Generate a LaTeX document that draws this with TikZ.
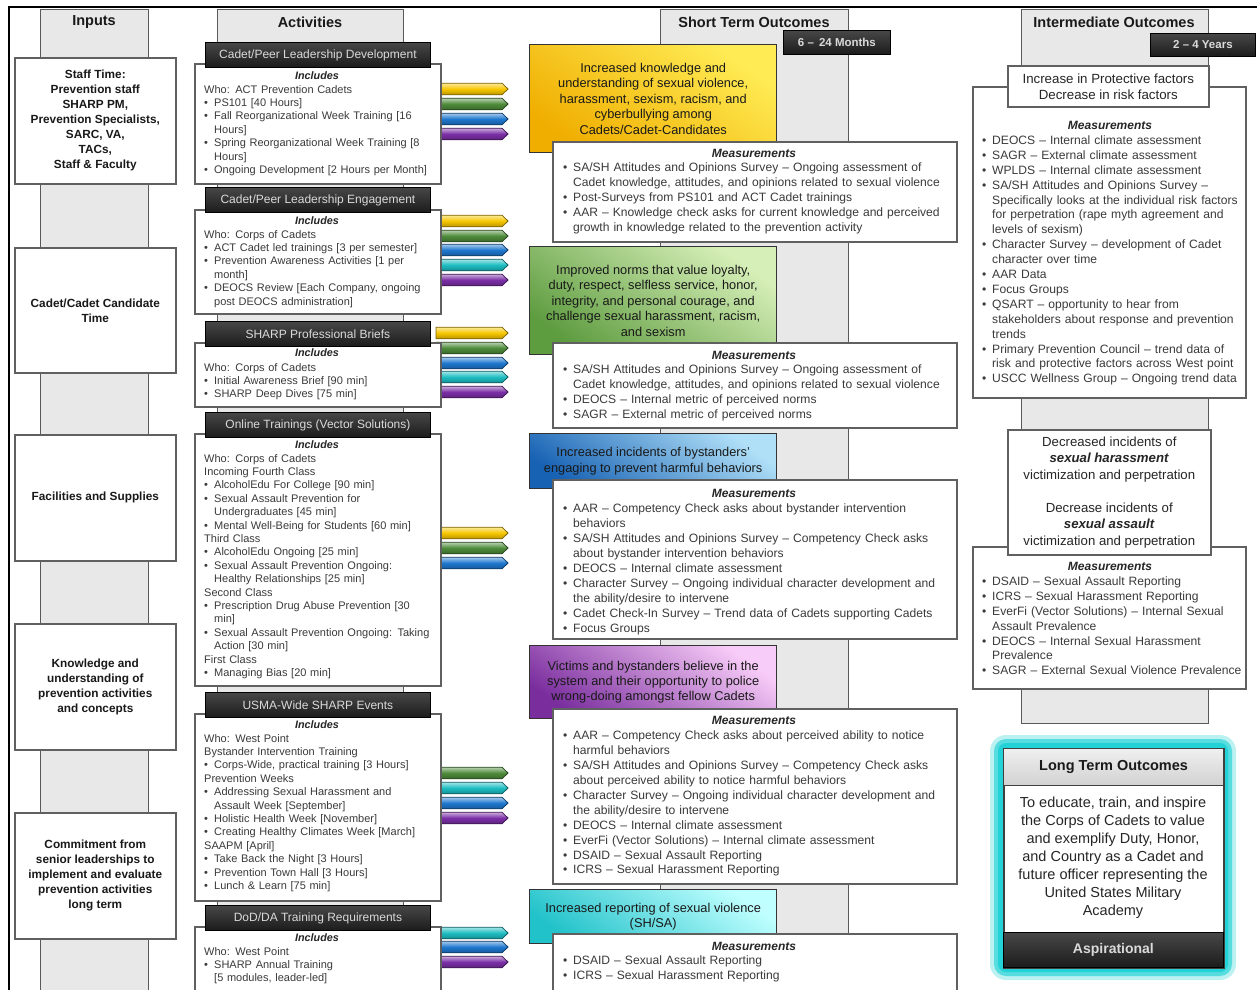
\documentclass[tikz,border=0pt]{standalone}
\usepackage{fontspec}
\setmainfont{Liberation Sans}
\definecolor{barfill}{HTML}{E8E8E8}
\definecolor{bardraw}{HTML}{595959}
\definecolor{boxdraw}{HTML}{606060}
\definecolor{dtop}{HTML}{474747}
\definecolor{dbot}{HTML}{1C1C1C}
\definecolor{dtext}{HTML}{DADADA}
\definecolor{txt}{HTML}{3A3A3A}
\definecolor{ayel}{HTML}{F7C600}
\definecolor{agrn}{HTML}{4E8B3A}
\definecolor{ablu}{HTML}{1F78CF}
\definecolor{acyn}{HTML}{1DBDC2}
\definecolor{apur}{HTML}{7B2FA6}
\definecolor{yTop}{HTML}{FFEC55}
\definecolor{yBot}{HTML}{F0AE00}
\definecolor{gTop}{HTML}{D6EFB8}
\definecolor{gBot}{HTML}{5E9C40}
\definecolor{bTop}{HTML}{B0E0F8}
\definecolor{bBot}{HTML}{1862B4}
\definecolor{pTop}{HTML}{F8CCF8}
\definecolor{pBot}{HTML}{7A2E9E}
\definecolor{cTop}{HTML}{C0FFFF}
\definecolor{cBot}{HTML}{22C2CA}
\definecolor{glow}{HTML}{22D2D6}
\newcommand{\mybul}{\makebox[10pt][l]{•}}
\newcommand{\mycont}{\hspace*{10pt}}
\newcommand{\colarr}[2]{%
  \draw[draw=#2!50!black, line width=0.8pt, top color=#2!40!white, bottom color=#2!75!black, middle color=#2]
   (436,{#1-5.8}) -- (502,{#1-5.8}) -- (508,{#1}) -- (502,{#1+5.8}) -- (436,{#1+5.8}) -- cycle;}
\tikzset{
 gbar/.style={fill=barfill, draw=bardraw, line width=1.4pt, inner sep=0pt, anchor=north west},
 wbox/.style={fill=white, draw=boxdraw, line width=1.6pt, inner sep=0pt, anchor=north west},
 dhead/.style={top color=dtop, bottom color=dbot, draw=black, line width=0.8pt, text=dtext, inner sep=0pt, anchor=north west},
 cbox/.style={draw=black!80, line width=1.4pt, inner sep=0pt, anchor=north west, text=black!90, align=center, font=\fontsize{12.8}{15.4}\selectfont},
 colhead/.style={font=\bfseries\fontsize{14.5}{17}\selectfont, text=black!90, inner sep=0pt},
 intext/.style={font=\bfseries\fontsize{11.8}{15}\selectfont, align=center, text=black!90},
 inc/.style={font=\bfseries\itshape\fontsize{10.8}{12}\selectfont, inner sep=0pt, text=black!85},
 meas/.style={font=\bfseries\itshape\fontsize{12}{13}\selectfont, inner sep=0pt, text=black!85},
 abody/.style={anchor=base west, inner sep=0pt, text width=260pt, align=left, font=\fontsize{11}{13.4}\selectfont, text=txt},
 sbody/.style={abody, text width=420pt, font=\fontsize{12.1}{14.95}\selectfont},
 ibody/.style={abody, text width=300pt, font=\fontsize{12.1}{14.9}\selectfont},
 ahead/.style={dhead, minimum width=225, minimum height=25, font=\fontsize{12}{14}\selectfont},
}
\begin{document}
\begin{tikzpicture}[x=1pt,y=-1pt]
\useasboundingbox (0,0) rectangle (1257,989);
\clip (0,0) rectangle (1257,989);
\fill[white] (0,0) rectangle (1257,989);
% column bars
\node[gbar, minimum width=108, minimum height=1000] (bin) at (40,9) {};
\node[gbar, minimum width=186, minimum height=1000] (bact) at (217,9) {};
\node[gbar, minimum width=188, minimum height=1000] (bst) at (660,9) {};
\node[gbar, minimum width=187, minimum height=714] (bint) at (1021,9) {};
% arrows
\colarr{89}{ayel}\colarr{104}{agrn}\colarr{119}{ablu}\colarr{134}{apur}
\colarr{221}{ayel}\colarr{236}{agrn}\colarr{250}{ablu}\colarr{265}{acyn}\colarr{280}{apur}
\colarr{333}{ayel}\colarr{348}{agrn}\colarr{363}{ablu}\colarr{377}{acyn}\colarr{392}{apur}
\colarr{533}{ayel}\colarr{548}{agrn}\colarr{563}{ablu}
\colarr{773}{agrn}\colarr{788}{acyn}\colarr{803}{ablu}\colarr{818}{apur}
\colarr{933}{acyn}\colarr{947}{ablu}\colarr{962}{apur}
% inputs
\node[wbox, minimum width=161, minimum height=126] (in1) at (14,57) {};
\node[intext] (in1t) at (in1.center) {Staff Time:\\Prevention staff\\SHARP PM,\\Prevention Specialists,\\SARC, VA,\\TACs,\\Staff \& Faculty};
\node[wbox, minimum width=161, minimum height=125] (in2) at (14,247) {};
\node[intext] (in2t) at (in2.center) {Cadet/Cadet Candidate\\Time};
\node[wbox, minimum width=161, minimum height=126] (in3) at (14,434) {};
\node[intext] (in3t) at (in3.center) {Facilities and Supplies};
\node[wbox, minimum width=161, minimum height=126] (in4) at (14,623) {};
\node[intext] (in4t) at (in4.center) {Knowledge and\\understanding of\\prevention activities\\and concepts};
\node[wbox, minimum width=161, minimum height=126] (in5) at (14,812) {};
\node[intext] (in5t) at (in5.center) {Commitment from\\senior leaderships to\\implement and evaluate\\prevention activities\\long term};
% activities
\node[wbox, minimum width=246, minimum height=120] (a1) at (194,63) {};
\node[ahead] (a1h) at (205,42) {Cadet/Peer Leadership Development};
\node[inc] (a1i) at (317,76) {Includes};
\node[abody] (a1t) at (204,93) {Who: ACT Prevention Cadets\\
\mybul PS101 [40 Hours]\\
\mybul Fall Reorganizational Week Training [16\\
\mycont Hours]\\
\mybul Spring Reorganizational Week Training [8\\
\mycont Hours]\\
\mybul Ongoing Development [2 Hours per Month]};
\node[wbox, minimum width=246, minimum height=104] (a2) at (194,209) {};
\node[ahead] (a2h) at (205,187) {Cadet/Peer Leadership Engagement};
\node[inc] (a2i) at (317,221) {Includes};
\node[abody] (a2t) at (204,238) {Who: Corps of Cadets\\
\mybul ACT Cadet led trainings [3 per semester]\\
\mybul Prevention Awareness Activities [1 per\\
\mycont month]\\
\mybul DEOCS Review [Each Company, ongoing\\
\mycont post DEOCS administration]};
\node[wbox, minimum width=246, minimum height=64] (a3) at (194,342) {};
\node[ahead] (a3h) at (205,321) {SHARP Professional Briefs};
\node[inc] (a3i) at (317,353) {Includes};
\node[abody] (a3t) at (204,371) {Who: Corps of Cadets\\
\mybul Initial Awareness Brief [90 min]\\
\mybul SHARP Deep Dives [75 min]};
\node[wbox, minimum width=246, minimum height=252] (a4) at (194,433) {};
\node[ahead] (a4h) at (205,412) {Online Trainings (Vector Solutions)};
\node[inc] (a4i) at (317,445) {Includes};
\node[abody] (a4t) at (204,462) {Who: Corps of Cadets\\
Incoming Fourth Class\\
\mybul AlcoholEdu For College [90 min]\\
\mybul Sexual Assault Prevention for\\
\mycont Undergraduates [45 min]\\
\mybul Mental Well-Being for Students [60 min]\\
Third Class\\
\mybul AlcoholEdu Ongoing [25 min]\\
\mybul Sexual Assault Prevention Ongoing:\\
\mycont Healthy Relationships [25 min]\\
Second Class\\
\mybul Prescription Drug Abuse Prevention [30\\
\mycont min]\\
\mybul Sexual Assault Prevention Ongoing: Taking\\
\mycont Action [30 min]\\
First Class\\
\mybul Managing Bias [20 min]};
\node[wbox, minimum width=246, minimum height=187] (a5) at (194,713) {};
\node[ahead] (a5h) at (205,692) {USMA-Wide SHARP Events};
\node[inc] (a5i) at (317,725) {Includes};
\node[abody] (a5t) at (204,742) {Who: West Point\\
Bystander Intervention Training\\
\mybul Corps-Wide, practical training [3 Hours]\\
Prevention Weeks\\
\mybul Addressing Sexual Harassment and\\
\mycont Assault Week [September]\\
\mybul Holistic Health Week [November]\\
\mybul Creating Healthy Climates Week [March]\\
SAAPM [April]\\
\mybul Take Back the Night [3 Hours]\\
\mybul Prevention Town Hall [3 Hours]\\
\mybul Lunch \& Learn [75 min]};
\node[wbox, minimum width=246, minimum height=80] (a6) at (194,926) {};
\node[ahead] (a6h) at (205,905) {DoD/DA Training Requirements};
\node[inc] (a6i) at (317,938) {Includes};
\node[abody] (a6t) at (204,955) {Who: West Point\\
\mybul SHARP Annual Training\\
\mycont [5 modules, leader-led]};
% short term outcomes
\node[cbox, top color=yTop, bottom color=yBot, shading angle=-35, minimum width=247, minimum height=108] (s1) at (529,44) {Increased knowledge and\\understanding of sexual violence,\\harassment, sexism, racism, and\\cyberbullying among\\Cadets/Cadet-Candidates};
\node[wbox, minimum width=404, minimum height=100] (m1) at (552,141) {};
\node[meas] (m1l) at (754,153) {Measurements};
\node[sbody] (m1t) at (563,171.4) {\mybul SA/SH Attitudes and Opinions Survey – Ongoing assessment of\\
\mycont Cadet knowledge, attitudes, and opinions related to sexual violence\\
\mybul Post-Surveys from PS101 and ACT Cadet trainings\\
\mybul AAR – Knowledge check asks for current knowledge and perceived\\
\mycont growth in knowledge related to the prevention activity};
\node[cbox, top color=gTop, bottom color=gBot, shading angle=-35, minimum width=247, minimum height=108] (s2) at (529,246) {Improved norms that value loyalty,\\duty, respect, selfless service, honor,\\integrity, and personal courage, and\\challenge sexual harassment, racism,\\and sexism};
\node[wbox, minimum width=404, minimum height=85] (m2) at (552,342) {};
\node[meas] (m2l) at (754,355) {Measurements};
\node[sbody] (m2t) at (563,373.4) {\mybul SA/SH Attitudes and Opinions Survey – Ongoing assessment of\\
\mycont Cadet knowledge, attitudes, and opinions related to sexual violence\\
\mybul DEOCS – Internal metric of perceived norms\\
\mybul SAGR – External metric of perceived norms};
\node[cbox, top color=bTop, bottom color=bBot, shading angle=-35, minimum width=247, minimum height=55] (s3) at (529,433) {Increased incidents of bystanders'\\engaging to prevent harmful behaviors};
\node[wbox, minimum width=404, minimum height=159] (m3) at (552,479) {};
\node[meas] (m3l) at (754,493) {Measurements};
\node[sbody] (m3t) at (563,512.4) {\mybul AAR – Competency Check asks about bystander intervention\\
\mycont behaviors\\
\mybul SA/SH Attitudes and Opinions Survey – Competency Check asks\\
\mycont about bystander intervention behaviors\\
\mybul DEOCS – Internal climate assessment\\
\mybul Character Survey – Ongoing individual character development and\\
\mycont the ability/desire to intervene\\
\mybul Cadet Check-In Survey – Trend data of Cadets supporting Cadets\\
\mybul Focus Groups};
\node[cbox, top color=pTop, bottom color=pBot, shading angle=-35, minimum width=247, minimum height=73] (s4) at (529,645) {Victims and bystanders believe in the\\system and their opportunity to police\\wrong-doing amongst fellow Cadets};
\node[wbox, minimum width=404, minimum height=175] (m4) at (552,708) {};
\node[meas] (m4l) at (754,720) {Measurements};
\node[sbody] (m4t) at (563,739.4) {\mybul AAR – Competency Check asks about perceived ability to notice\\
\mycont harmful behaviors\\
\mybul SA/SH Attitudes and Opinions Survey – Competency Check asks\\
\mycont about perceived ability to notice harmful behaviors\\
\mybul Character Survey – Ongoing individual character development and\\
\mycont the ability/desire to intervene\\
\mybul DEOCS – Internal climate assessment\\
\mybul EverFi (Vector Solutions) – Internal climate assessment\\
\mybul DSAID – Sexual Assault Reporting\\
\mybul ICRS – Sexual Harassment Reporting};
\node[cbox, top color=cTop, bottom color=cBot, shading angle=-35, minimum width=247, minimum height=54] (s5) at (529,889) {Increased reporting of sexual violence\\(SH/SA)};
\node[wbox, minimum width=404, minimum height=80] (m5) at (552,933) {};
\node[meas] (m5l) at (754,946) {Measurements};
\node[sbody] (m5t) at (563,964.4) {\mybul DSAID – Sexual Assault Reporting\\
\mybul ICRS – Sexual Harassment Reporting};
% intermediate outcomes
\node[wbox, minimum width=273, minimum height=311] (im1) at (972,86) {};
\node[wbox, minimum width=201, minimum height=41, align=center, font=\fontsize{13.3}{16}\selectfont, text=black!85] (i1) at (1007,65) {Increase in Protective factors\\Decrease in risk factors};
\node[meas] (im1l) at (1110,125) {Measurements};
\node[ibody] (im1t) at (982,144.4) {\mybul DEOCS – Internal climate assessment\\
\mybul SAGR – External climate assessment\\
\mybul WPLDS – Internal climate assessment\\
\mybul SA/SH Attitudes and Opinions Survey –\\
\mycont Specifically looks at the individual risk factors\\
\mycont for perpetration (rape myth agreement and\\
\mycont levels of sexism)\\
\mybul Character Survey – development of Cadet\\
\mycont character over time\\
\mybul AAR Data\\
\mybul Focus Groups\\
\mybul QSART – opportunity to hear from\\
\mycont stakeholders about response and prevention\\
\mycont trends\\
\mybul Primary Prevention Council – trend data of\\
\mycont risk and protective factors across West point\\
\mybul USCC Wellness Group – Ongoing trend data};
\node[wbox, minimum width=273, minimum height=142] (im2) at (972,546) {};
\node[wbox, minimum width=203, minimum height=125, align=center, font=\fontsize{13.2}{16.5}\selectfont, text=black!85] (i2) at (1007,429) {Decreased incidents of\\\textbf{\textit{sexual harassment}}\\victimization and perpetration\\[16.5pt]Decrease incidents of\\\textbf{\textit{sexual assault}}\\victimization and perpetration};
\node[meas] (im2l) at (1110,566) {Measurements};
\node[ibody] (im2t) at (982,585.4) {\mybul DSAID – Sexual Assault Reporting\\
\mybul ICRS – Sexual Harassment Reporting\\
\mybul EverFi (Vector Solutions) – Internal Sexual\\
\mycont Assault Prevalence\\
\mybul DEOCS – Internal Sexual Harassment\\
\mycont Prevalence\\
\mybul SAGR – External Sexual Violence Prevalence};
% long term
\fill[glow, opacity=0.3, rounded corners=16] (990,735) rectangle (1236,980);
\fill[glow, opacity=0.65, rounded corners=12] (994,739) rectangle (1232,976);
\fill[glow, rounded corners=8] (998,743) rectangle (1228,972);
\node[wbox, draw=black!75, minimum width=220, minimum height=219] (lt) at (1003,748) {};
\node[anchor=north west, inner sep=0pt, top color=white!94!black, bottom color=white!82!black, draw=black!75, line width=1.2pt, minimum width=220, minimum height=37, font=\bfseries\fontsize{14.5}{17}\selectfont, text=black!90] (lth) at (1003,748) {Long Term Outcomes};
\node[align=center, font=\fontsize{14.5}{18}\selectfont, text=black!85] (ltt) at (1113,858) {To educate, train, and inspire\\the Corps of Cadets to value\\and exemplify Duty, Honor,\\and Country as a Cadet and\\future officer representing the\\United States Military\\Academy};
\node[dhead, minimum width=220, minimum height=35, font=\bfseries\fontsize{14}{17}\selectfont] (ltf) at (1003,932) {Aspirational};
% time boxes
\node[dhead, minimum width=107, minimum height=24, font=\bfseries\fontsize{11.5}{13}\selectfont] (t1) at (783,30) {6 –\, 24 Months};
\node[dhead, minimum width=105, minimum height=23, font=\bfseries\fontsize{11.5}{13}\selectfont] (t2) at (1150,33) {2 – 4 Years};
% column headers
\node[colhead] (hin) at (94,22) {Inputs};
\node[colhead] (hact) at (310,22) {Activities};
\node[colhead] (hst) at (754,22) {Short Term Outcomes};
\node[colhead] (hint) at (1114,22) {Intermediate Outcomes};
% frame
\draw[line width=2.6pt, black] (9,995) -- (9,7) -- (1262,7);
\end{tikzpicture}
\end{document}
